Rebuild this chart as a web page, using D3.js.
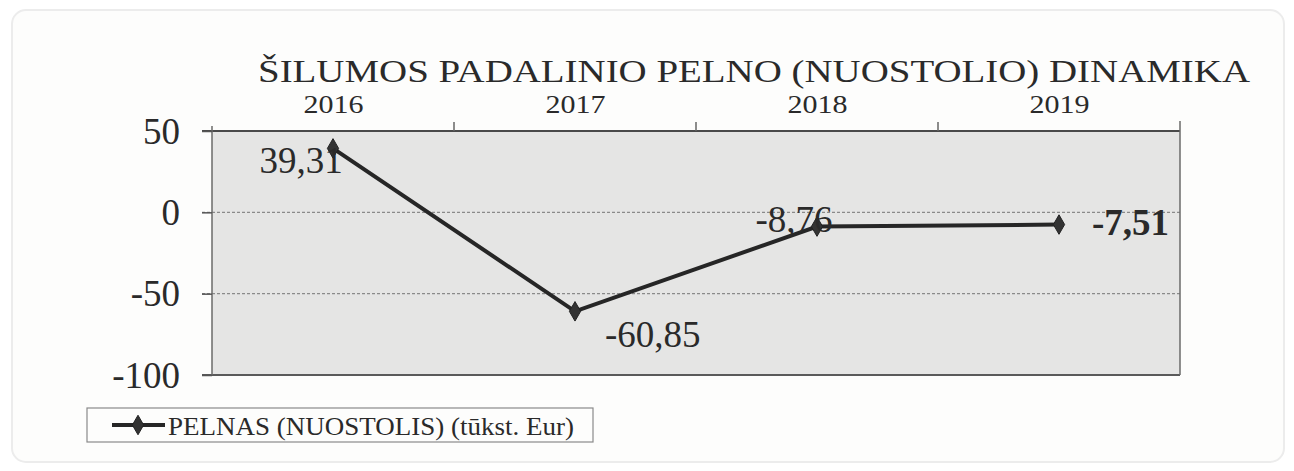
<!DOCTYPE html>
<html>
<head>
<meta charset="utf-8">
<script src="https://cdn.jsdelivr.net/npm/d3@7/dist/d3.min.js"></script>
<style>
  html, body { margin: 0; padding: 0; background: #ffffff; }
  svg { display: block; }
</style>
</head>
<body>
<svg id="chart" width="1294" height="471" font-family="Liberation Serif, DejaVu Serif, serif"></svg>
<script>
// ---- data ----
const title = "ŠILUMOS PADALINIO PELNO (NUOSTOLIO) DINAMIKA";
const categories = ["2016", "2017", "2018", "2019"];
const values = [39.31, -60.85, -8.76, -7.51];
const valueLabels = ["39,31", "-60,85", "-8,76", "-7,51"];
const yTicks = [50, 0, -50, -100];
const gridValues = [0, -50];
const seriesName = "PELNAS (NUOSTOLIS) (tūkst. Eur)";

// ---- layout ----
const FONT = "Liberation Serif";
const INK = "#2a2a2a";
const plot = { left: 212, right: 1180, top: 131, bottom: 375 };
const svg = d3.select("#chart");

// faint scanned-page frame
svg.append("rect").attr("x", 12).attr("y", 10).attr("width", 1272).attr("height", 452)
  .attr("rx", 14).attr("fill", "#fdfdfc").attr("stroke", "#ececec").attr("stroke-width", 2);

const x = d3.scaleBand().domain(categories).range([plot.left, plot.right]).padding(0);
const y = d3.scaleLinear().domain([-100, 50]).range([plot.bottom, plot.top]);

// plot area
svg.append("rect").attr("x", plot.left).attr("y", plot.top)
  .attr("width", plot.right - plot.left).attr("height", plot.bottom - plot.top)
  .attr("fill", "#e5e5e4");

// gridlines
svg.append("g").selectAll("line").data(gridValues).join("line")
  .attr("x1", plot.left - 10).attr("x2", plot.right)
  .attr("y1", d => y(d)).attr("y2", d => y(d))
  .attr("stroke", "#8a8a8a").attr("stroke-width", 1.2).attr("stroke-dasharray", "3,2");

// border
svg.append("line").attr("x1", plot.left - 10).attr("x2", plot.right).attr("y1", plot.top).attr("y2", plot.top)
  .attr("stroke", "#4a4a4a").attr("stroke-width", 2);
svg.append("line").attr("x1", plot.left - 10).attr("x2", plot.right).attr("y1", plot.bottom).attr("y2", plot.bottom)
  .attr("stroke", "#5a5a5a").attr("stroke-width", 2);
svg.append("line").attr("x1", plot.left).attr("x2", plot.left).attr("y1", plot.top - 5).attr("y2", plot.bottom)
  .attr("stroke", "#6a6a6a").attr("stroke-width", 1.5);
svg.append("line").attr("x1", plot.right).attr("x2", plot.right).attr("y1", plot.top - 10).attr("y2", plot.bottom)
  .attr("stroke", "#6a6a6a").attr("stroke-width", 1.5);

// y axis
const yAxis = svg.append("g").attr("transform", `translate(${plot.left},0)`)
  .call(d3.axisLeft(y).tickValues(yTicks).tickSize(10).tickPadding(22).tickFormat(d => String(d)));
yAxis.attr("font-family", FONT);
yAxis.select(".domain").remove();
yAxis.selectAll(".tick line").attr("stroke", "#555").attr("stroke-width", 1.5);
yAxis.selectAll(".tick text").attr("font-size", 37).attr("font-family", FONT).attr("fill", INK).attr("dy", "0.33em");

// top x axis (labels at band centers)
const xc = d3.scalePoint().domain(categories)
  .range([x(categories[0]) + x.bandwidth() / 2, x(categories[categories.length - 1]) + x.bandwidth() / 2]);
const xAxis = svg.append("g").attr("transform", `translate(0,${plot.top})`)
  .call(d3.axisTop(xc).tickSize(0).tickPadding(18));
xAxis.attr("font-family", FONT);
xAxis.select(".domain").remove();
xAxis.selectAll(".tick text").attr("font-size", 26).attr("font-family", FONT).attr("fill", INK)
  .attr("textLength", 60).attr("lengthAdjust", "spacingAndGlyphs");

// category boundary ticks on top
svg.append("g").selectAll("line").data(categories.slice(1)).join("line")
  .attr("x1", d => x(d)).attr("x2", d => x(d))
  .attr("y1", plot.top).attr("y2", plot.top - 9)
  .attr("stroke", "#666").attr("stroke-width", 1.5);

// title
svg.append("text").attr("x", 754).attr("y", 82).attr("text-anchor", "middle")
  .attr("font-family", FONT).attr("fill", INK).attr("font-size", 32)
  .attr("textLength", 992).attr("lengthAdjust", "spacingAndGlyphs").text(title);

// line
const cx = d => x(d) + x.bandwidth() / 2;
const pts = categories.map((c, i) => [cx(c), y(values[i])]);
svg.append("path").attr("d", d3.line()(pts))
  .attr("fill", "none").attr("stroke", "#262626").attr("stroke-width", 4).attr("stroke-linejoin", "miter");

const diamond = d3.symbol().type(d3.symbolDiamond).size(110);
svg.append("g").selectAll("path").data(pts).join("path")
  .attr("transform", d => `translate(${d[0]},${d[1]})`)
  .attr("d", diamond).attr("fill", "#333").attr("stroke", "#222").attr("stroke-width", 1);

// data labels
const labelPlacement = [
  { dx: -32, dy: 25, anchor: "middle", weight: "normal" },
  { dx: 30, dy: 36, anchor: "start", weight: "normal" },
  { dx: -23, dy: 5, anchor: "middle", weight: "normal" },
  { dx: 33, dy: 10, anchor: "start", weight: "bold" }
];
svg.append("g").selectAll("text").data(pts).join("text")
  .attr("x", (d, i) => d[0] + labelPlacement[i].dx)
  .attr("y", (d, i) => d[1] + labelPlacement[i].dy)
  .attr("text-anchor", (d, i) => labelPlacement[i].anchor)
  .attr("font-weight", (d, i) => labelPlacement[i].weight)
  .attr("font-family", FONT).attr("fill", INK)
  .attr("font-size", 37)
  .text((d, i) => valueLabels[i]);

// legend
const lg = svg.append("g");
lg.append("rect").attr("x", 87).attr("y", 408).attr("width", 506).attr("height", 34)
  .attr("fill", "#fdfdfc").attr("stroke", "#8a8a8a").attr("stroke-width", 1.2);
lg.append("line").attr("x1", 112).attr("x2", 165).attr("y1", 425).attr("y2", 425)
  .attr("stroke", "#262626").attr("stroke-width", 4);
lg.append("path").attr("transform", "translate(138,425)").attr("d", diamond)
  .attr("fill", "#333").attr("stroke", "#222");
lg.append("text").attr("x", 168).attr("y", 435).attr("font-family", FONT).attr("fill", INK)
  .attr("font-size", 26).attr("textLength", 406).attr("lengthAdjust", "spacingAndGlyphs").text(seriesName);
</script>
</body>
</html>
